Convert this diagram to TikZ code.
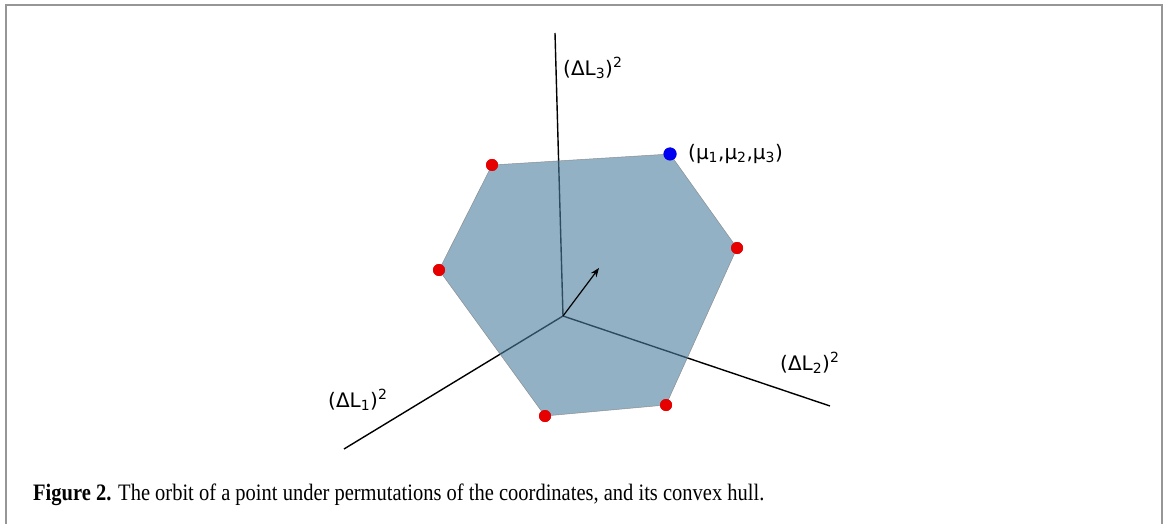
\documentclass[tikz,border=0pt]{standalone}
\usepackage{fontspec}
\setmainfont{Liberation Serif}
\newfontfamily\lblfont{DejaVu Sans}
\usetikzlibrary{arrows.meta}
\definecolor{hullblue}{RGB}{75,125,158}
\definecolor{framegray}{RGB}{150,150,150}
\definecolor{dotred}{RGB}{230,0,0}
\definecolor{dotblue}{RGB}{0,0,240}
\tikzset{
  axis/.style={line width=1.4pt, black},
  hull/.style={fill=hullblue, fill opacity=0.6, draw=gray, draw opacity=0.8, line width=0.5pt},
  reddot/.style={circle, fill=dotred, inner sep=0pt, minimum size=12pt},
  bluedot/.style={circle, fill=dotblue, inner sep=0pt, minimum size=13pt},
  lbl/.style={font=\lblfont\fontsize{20}{24}\selectfont, inner sep=0pt},
  frame/.style={draw=framegray, line width=1.8pt},
  vec/.style={line width=1.2pt, -{Stealth[length=9pt,width=7pt]}}
}
\begin{document}
\begin{tikzpicture}[x=1pt,y=-1pt]
\useasboundingbox (0,0) rectangle (1168,524);
\draw[frame] (6,524) -- (6,5) -- (1162,5) -- (1162,524);
% axes
\coordinate (O) at (563,316);
\coordinate (A1) at (344,449);
\coordinate (A2) at (830,406);
\coordinate (A3) at (555,33);
\coordinate (T) at (599,268);
\draw[axis] (O) -- (A1);
\draw[axis] (O) -- (A2);
\draw[axis] (O) -- (A3);
% vertices
\node[bluedot] (v1) at (670,154) {};
\node[reddot] (v2) at (737,248) {};
\node[reddot] (v3) at (666,405) {};
\node[reddot] (v4) at (545,416) {};
\node[reddot] (v5) at (439,270) {};
\node[reddot] (v6) at (492,165) {};
\path[hull] (v1.center) -- (v2.center) -- (v3.center) -- (v4.center) -- (v5.center) -- (v6.center) -- cycle;
\draw[vec] (O) -- (T);
\node[bluedot] at (v1) {};
\foreach \v in {v2,v3,v4,v5,v6} \node[reddot] at (\v) {};
% labels
\node[lbl, anchor=west] (l3) at (563,68) {(ΔL\textsubscript{3})\textsuperscript{2}};
\node[lbl, anchor=west] (lmu) at (688,154) {(μ\textsubscript{1},μ\textsubscript{2},μ\textsubscript{3})};
\node[lbl, anchor=west] (l1) at (328,400) {(ΔL\textsubscript{1})\textsuperscript{2}};
\node[lbl, anchor=west] (l2) at (780,363) {(ΔL\textsubscript{2})\textsuperscript{2}};
% caption
\node[anchor=base west, inner sep=0pt, font=\fontsize{20.5}{24}\selectfont] (cap) at (33,500) {\scalebox{1}[1.15]{\textbf{Figure 2.} The orbit of a point under permutations of the coordinates, and its convex hull.}};
\end{tikzpicture}
\end{document}
